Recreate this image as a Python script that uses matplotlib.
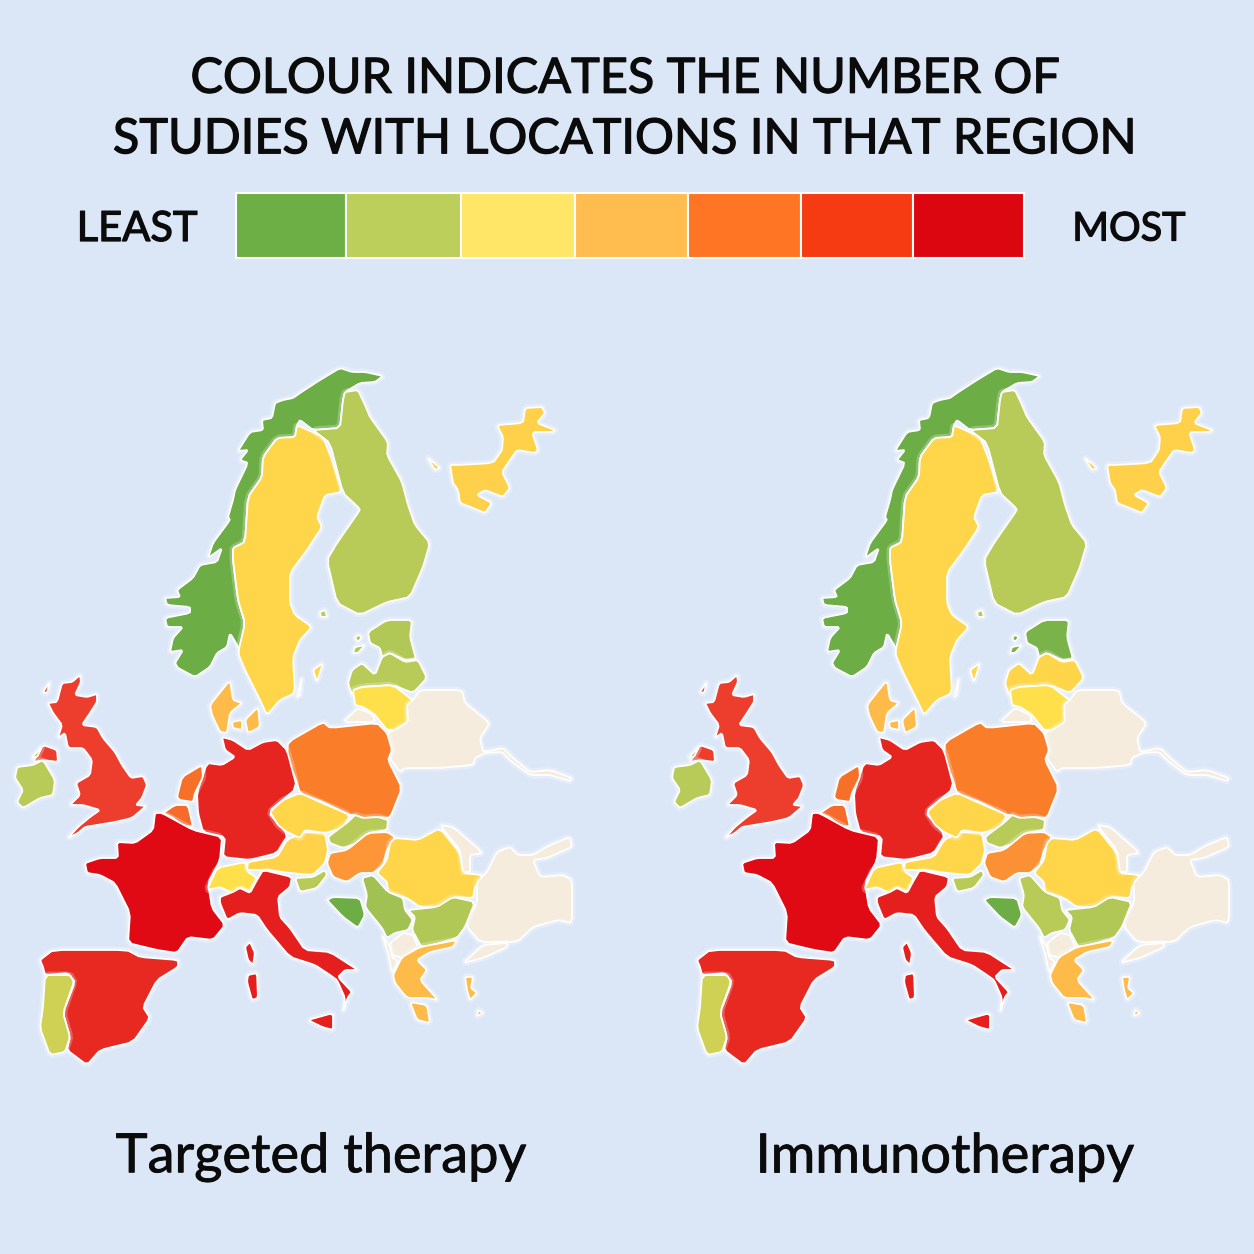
import matplotlib
matplotlib.use("Agg")
import matplotlib.pyplot as plt
import matplotlib.patheffects as pe
from matplotlib.colors import LinearSegmentedColormap
from matplotlib.patches import Polygon, Rectangle
from matplotlib.transforms import Affine2D

plt.rcParams["font.family"] = ["Lato", "DejaVu Sans"]

TITLE = "COLOUR INDICATES THE NUMBER OF\nSTUDIES WITH LOCATIONS IN THAT REGION"
MAP_TITLES = ["Targeted therapy", "Immunotherapy"]
KEY_COLOURS = ["#6DAE45", "#BBCF5A", "#FFE666", "#FFBC4F", "#FF7524", "#F63A12", "#DC0611"]
MAP_COLOURS = ["#6CAD45", "#B9CB58", "#FFE04A", "#FFBC4A", "#FA7D2A", "#ED3E2C", "#DF0A14"]
NO_STUDIES = "#F5ECDD"
BACKGROUND = "#DBE7F7"
INK = "#0B0B0B"

# outlines, one list of rings per region
NORWAY = [[(195,677),(178,668),(175,663),(183,650),(170,652),(173,638),(183,627),(167,627),(165,618),(190,613),(190,607),(167,605),(165,598),(180,597),(177,590),(193,578),(200,565),(217,562),(222,548),(208,558),(213,543),(230,520),(228,517),(233,500),(235,490),(248,463),(240,460),(248,450),(238,451),(250,432),(263,430),(262,420),(272,418),(275,403),(283,400),(293,398),(300,393),(320,380),(340,368),(352,372),(365,372),(383,376),(375,382),(360,383),(345,392),(343,400),(340,428),(313,430),(300,420),(297,425),(295,437),(277,438),(263,457),(262,477),(248,497),(245,542),(233,548),(233,560),(238,600),(245,623),(240,650),(230,633),(227,647),(217,653),(210,667)]]
SWEDEN = [[(297,425),(323,437),(332,460),(342,492),(325,495),(317,517),(322,527),(307,550),(290,573),(290,603),(295,615),(312,627),(300,640),(293,657),(295,693),(280,700),(267,715),(260,700),(245,670),(238,653),(245,623),(238,600),(233,560),(233,548),(245,542),(248,497),(262,477),(263,457),(277,438),(295,437)],
          [(313,670),(323,663),(317,682)], [(297,697),(302,677),(300,695)]]
FINLAND = [[(345,392),(358,390),(365,405),(370,417),(388,442),(387,455),(402,482),(408,505),(415,525),(430,543),(423,567),(410,597),(387,602),(360,615),(337,603),(327,560),(337,543),(360,510),(358,507),(343,493),(330,443),(313,430),(340,428),(343,400)],
           [(320,612),(325,610),(327,617),(321,617)]]
ESTONIA = [[(368,632),(387,620),(412,620),(410,637),(416,659),(405,660),(390,653),(382,657),(380,648),(370,643)],
           [(355,647),(365,645),(358,653),(353,653)], [(358,635),(362,637),(358,642),(355,638)]]
LATVIA = [[(362,663),(375,675),(382,657),(390,653),(405,662),(418,660),(427,678),(413,693),(393,685),(360,687),(352,695),(348,683),(352,670)]]
LITHUANIA = [[(353,690),(362,687),(393,685),(415,702),(407,712),(408,722),(395,730),(387,730),(375,715),(363,707),(355,705)]]
KALININGRAD = [[(343,722),(358,708),(373,715),(375,722)]]
BELARUS = [[(413,700),(420,690),(462,690),(465,703),(490,723),(480,738),(483,752),(503,748),(513,758),(530,772),(550,770),(572,778),(570,781),(550,775),(530,775),(512,762),(502,752),(485,753),(475,758),(473,765),(440,768),(405,768),(400,772),(390,758),(392,750),(387,733),(395,730),(408,722),(407,705)]]
POLAND = [[(288,742),(323,722),(330,728),(377,723),(387,733),(392,750),(388,760),(402,788),(390,818),(378,817),(363,818),(355,815),(350,815),(323,802),(300,793),(295,777),(287,760)]]
GERMANY = [[(222,737),(233,740),(248,750),(263,742),(277,740),(287,750),(297,788),(268,812),(288,835),(277,853),(250,860),(223,857),(225,837),(203,832),(198,813),(197,793),(207,763),(222,765),(235,757),(225,750)]]
NETHERLANDS = [[(177,797),(182,777),(202,765),(203,777),(195,793),(193,802),(180,800)]]
BELGIUM = [[(163,813),(175,805),(188,805),(193,827),(182,825),(172,817)]]
FRANCE = [[(155,813),(162,813),(193,830),(222,837),(220,860),(208,883),(212,908),(225,925),(213,940),(188,937),(177,953),(157,950),(128,943),(130,913),(115,883),(100,875),(87,873),(85,863),(100,858),(118,858),(117,842),(135,843),(153,830)]]
SWITZERLAND = [[(207,890),(217,868),(245,862),(248,872),(257,878),(250,892),(240,887),(232,893),(220,887)]]
AUSTRIA = [[(247,870),(248,862),(277,857),(287,840),(303,832),(325,833),(328,850),(325,863),(313,875),(290,873),(267,870)]]
CZECHIA = [[(270,812),(283,800),(300,793),(322,803),(350,815),(343,828),(325,833),(305,830),(300,838),(287,832),(278,825)]]
SLOVAKIA = [[(328,837),(348,822),(355,815),(363,818),(378,817),(388,820),(387,830),(368,833),(358,843),(343,848),(330,843)]]
HUNGARY = [[(330,853),(347,850),(368,833),(387,832),(395,837),(387,850),(383,865),(373,873),(360,873),(347,882),(333,877),(327,863)]]
SLOVENIA = [[(295,878),(313,877),(325,870),(327,875),(317,888),(300,892)]]
ITALY = [[(220,897),(233,892),(240,888),(250,893),(257,880),(263,870),(292,877),(290,887),(278,897),(280,917),(290,928),(305,950),(330,952),(358,970),(345,970),(338,977),(352,992),(348,997),(343,1012),(345,998),(337,980),(330,975),(315,965),(290,957),(267,930),(257,915),(240,913),(227,920),(220,903)],
         [(308,1020),(333,1013),(333,1030),(322,1027)],
         [(250,942),(255,953),(253,965),(248,960),(245,947)],
         [(248,975),(257,973),(258,998),(252,1000),(247,982)]]
SPAIN = [[(40,960),(53,950),(127,950),(140,957),(178,960),(178,967),(157,980),(143,1007),(150,1018),(133,1042),(100,1050),(87,1065),(67,1050),(70,1037),(63,1013),(75,982),(68,973),(45,975),(43,967)]]
PORTUGAL = [[(45,975),(70,975),(74,982),(63,1013),(70,1037),(65,1052),(50,1055),(40,1028),(43,1007)]]
BRITAIN = [[(62,683),(72,682),(80,675),(81,682),(75,695),(87,697),(97,694),(97,702),(90,713),(82,725),(97,727),(103,738),(115,752),(122,765),(131,778),(143,776),(147,785),(142,798),(136,805),(146,806),(132,818),(115,822),(97,825),(85,827),(78,833),(68,838),(78,827),(90,817),(100,810),(83,805),(70,805),(80,795),(76,783),(90,775),(92,760),(83,748),(68,748),(65,733),(58,738),(62,725),(53,713),(48,703),(57,702)],
           [(43,692),(50,682),(47,693)], [(33,762),(43,745),(57,750),(58,762),(43,760)]]
IRELAND = [[(17,767),(33,765),(43,760),(55,780),(53,795),(40,798),(23,808),(17,802),(23,790),(15,778)],
           [(32,757),(42,747),(37,757)]]
DENMARK = [[(210,705),(230,680),(233,700),(242,703),(230,713),(227,733),(220,732),(212,715)],
           [(245,720),(258,707),(260,727),(248,733)], [(232,722),(242,720),(242,730),(233,728)]]
KARELIA = [[(497,425),(523,423),(525,408),(542,407),(545,413),(537,423),(555,430),(553,432),(532,432),(538,450),(535,453),(517,450),(510,460),(502,472),(510,488),(503,497),(485,490),(477,495),(492,503),(485,513),(473,508),(460,503),(458,490),(453,483),(450,465),(457,465),(493,463),(502,450),(503,437)],
           [(427,457),(440,468),(435,470)]]
ROMANIA = [[(395,838),(418,840),(440,828),(460,853),(463,873),(482,875),(480,882),(475,887),(473,898),(453,897),(440,907),(420,907),(407,898),(388,892),(387,882),(377,873),(387,860),(390,843)]]
MOLDOVA = [[(440,825),(453,827),(483,853),(470,855),(470,872),(463,872),(460,850)]]
TURKEY = [[(487,872),(497,852),(510,847),(518,855),(533,855),(550,845),(570,837),(572,847),(547,858),(533,860),(540,877),(563,875),(572,880),(572,923),(558,920),(533,927),(517,942),(480,942),(468,928),(467,920),(477,903),(477,882)],
          [(463,963),(483,945),(507,943),(507,947),(483,958)]]
SERBIA = [[(362,878),(373,875),(388,892),(403,898),(405,910),(413,920),(408,930),(395,933),(387,938),(382,928),(365,907),(367,895)]]
BOSNIA = [[(327,900),(333,897),(360,898),(365,915),(358,928),(343,917)]]
BULGARIA = [[(408,910),(437,907),(453,897),(475,902),(465,927),(457,938),(422,948),(412,930),(415,917)]]
MACEDONIA = [[(390,943),(403,933),(413,935),(418,947),(403,958),(392,955)]]
ALBANIA = [[(382,935),(390,947),(392,957),(398,962),(392,973),(388,953)]]
GREECE = [[(393,975),(402,957),(420,947),(457,940),(453,947),(430,952),(417,960),(427,970),(420,980),(438,1000),(427,998),(407,998),(395,983)],
          [(410,1002),(427,1005),(430,1023),(417,1020)],
          [(465,977),(473,977),(471,988),(477,993),(470,1000),(467,990)], [(478,1010),(483,1013),(477,1016)]]

REGIONS = [NORWAY, SWEDEN, FINLAND, ESTONIA, LATVIA, LITHUANIA, KALININGRAD, BELARUS, POLAND,
           GERMANY, NETHERLANDS, BELGIUM, FRANCE, SWITZERLAND, AUSTRIA, CZECHIA, SLOVAKIA, HUNGARY,
           SLOVENIA, ITALY, SPAIN, PORTUGAL, BRITAIN, IRELAND, DENMARK, KARELIA, ROMANIA, MOLDOVA,
           TURKEY, SERBIA, BOSNIA, BULGARIA, MACEDONIA, ALBANIA, GREECE]
# position on the seven step scale, None = no studies
TARGETED = [0, 2.3, 1, 0.9, 1, 2, None, None, 4,
            5.5, 4.2, 4.3, 6, 2, 2.4, 2.3, 1, 3.6,
            1, 5.6, 5.4, 1.3, 5, 1, 3, 2.45, 2.3, None,
            None, 0.7, 0, 0.9, None, None, 3]
IMMUNO = [0, 2.3, 1, 0.2, 2.3, 2, None, None, 4,
          5.5, 4.2, 4.3, 6, 2.2, 2.3, 2.3, 1, 3.7,
          1, 5.6, 5.4, 1.3, 5, 1, 3, 2.45, 2.3, None,
          None, 1, 0, 0.9, None, None, 3]


def round_corners(ring, cut=0.12):
    # one pass of corner cutting, the reference outlines have no sharp corners
    out = []
    for (x0, y0), (x1, y1) in zip(ring, ring[1:] + ring[:1]):
        out.append((x0 + cut * (x1 - x0), y0 + cut * (y1 - y0)))
        out.append((x1 - cut * (x1 - x0), y1 - cut * (y1 - y0)))
    return out


scale = LinearSegmentedColormap.from_list("studies", MAP_COLOURS)
heavy = [pe.Stroke(linewidth=0.9, foreground=INK), pe.Normal()]

fig = plt.figure(figsize=(12.54, 12.54), dpi=100, facecolor=BACKGROUND)
ax = fig.add_axes([0, 0, 1, 1])
ax.set_xlim(0, 1254)
ax.set_ylim(1254, 0)
ax.axis("off")

# ---- title + colour key ----
ax.text(626, 109, TITLE, ha="center", va="center", fontsize=35, color=INK,
        linespacing=1.46, path_effects=heavy)
key_edges = [236, 345.5, 460.5, 574.5, 687.5, 800.5, 912.5, 1024]
for i, colour in enumerate(KEY_COLOURS):
    ax.add_patch(Rectangle((key_edges[i], 193), key_edges[i + 1] - key_edges[i], 65,
                           facecolor=colour, edgecolor="white", linewidth=1.5))
ax.text(137, 229, "LEAST", ha="center", va="center", fontsize=30, color=INK, path_effects=heavy)
ax.text(1129, 229, "MOST", ha="center", va="center", fontsize=28.5, color=INK, path_effects=heavy)

# ---- the two maps ----
halo = [pe.Stroke(linewidth=5, foreground="white", alpha=0.25), pe.Normal()]
for values, offset, label, label_x in zip([TARGETED, IMMUNO], [0, 657], MAP_TITLES, [321, 945]):
    shift = Affine2D().translate(offset, 0) + ax.transData
    for rings, value in zip(REGIONS, values):
        colour = NO_STUDIES if value is None else scale(value / 6)
        for ring in rings:
            ax.add_patch(Polygon(round_corners(ring), closed=True, facecolor=colour, edgecolor="white",
                                 linewidth=1.3, joinstyle="round", transform=shift,
                                 path_effects=halo))
    ax.text(label_x, 1157, label, ha="center", va="center", fontsize=39, color=INK,
            path_effects=[pe.Stroke(linewidth=0.6, foreground=INK), pe.Normal()])

fig.savefig("out.png", dpi=100, facecolor=BACKGROUND)
